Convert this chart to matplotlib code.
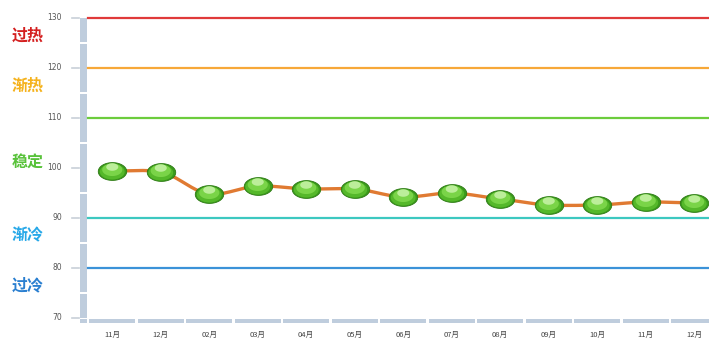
import numpy as np
import matplotlib
matplotlib.use("Agg")
import matplotlib.pyplot as plt
from matplotlib.path import Path
from matplotlib.transforms import blended_transform_factory
from matplotlib.patches import Rectangle

plt.rcParams['font.family'] = ['Noto Sans CJK SC', 'DejaVu Sans']

months = ["11月", "12月", "02月", "03月", "04月", "05月", "06月", "07月",
          "08月", "09月", "10月", "11月", "12月"]
values = [99.4, 99.2, 94.8, 96.4, 95.8, 95.8, 94.2, 95.0, 93.8, 92.6, 92.6, 93.2, 93.0]

levels = [130, 120, 110, 90, 80]
level_colors = ["#e03a3a", "#f7a838", "#6ccc3c", "#3cc8c0", "#3b92d8"]
zone_names = ["过热", "渐热", "稳定", "渐冷", "过冷"]
zone_pos = [126.5, 116.5, 101.2, 86.5, 76.5]
zone_colors = ["#d42020", "#f5b21c", "#58c23a", "#27a8e8", "#2a7fd0"]
yticks = [70, 80, 90, 100, 110, 120, 130]

W, H = 709, 340
fig = plt.figure(figsize=(W / 100, H / 100), dpi=100)
x0, x1, ytop, ybot = 88, 709, 18, 318
ax = fig.add_axes([x0 / W, 1 - ybot / H, (x1 - x0) / W, (ybot - ytop) / H])
step = 48.5
n = len(months)
ax.set_xlim(-0.5, -0.5 + (x1 - x0) / step)
ax.set_ylim(70, 130)
for s in ax.spines.values():
    s.set_visible(False)

# threshold lines
for lv, c in zip(levels, level_colors):
    ax.axhline(lv, color=c, lw=1.6, zorder=2, clip_on=False)

# 3D wall (left) and floor (bottom)
wall = "#bfcddd"
px = 1.0 / (x1 - x0)
py = 1.0 / (ybot - ytop)
tr_y = blended_transform_factory(ax.transAxes, ax.transData)
segs = [(70, 75), (75, 85), (85, 95), (95, 105), (105, 115), (115, 125), (125, 130)]
for lo, hi in segs:
    a = lo + (0.15 if lo != 70 else 0)
    b = hi - (0.15 if hi != 130 else 0)
    ax.add_patch(Rectangle((-8 * px, a), 7 * px, b - a, transform=tr_y,
                           facecolor=wall, edgecolor="none", clip_on=False, zorder=1))
tr_x = blended_transform_factory(ax.transData, ax.transAxes)
ax.add_patch(Rectangle((-8 * px, -5 * py), 7 * px, 4 * py, transform=ax.transAxes,
                       facecolor=wall, edgecolor="none", clip_on=False, zorder=1))
for i in range(n):
    ax.add_patch(Rectangle((i - 0.5 + 0.03, -5 * py), 0.94, 4 * py, transform=tr_x,
                           facecolor=wall, edgecolor="none", clip_on=False, zorder=1))

# y tick marks and labels
for v in yticks:
    ax.plot([-16 * px, -9 * px], [v, v], transform=tr_y, color="#c8d0d8",
            lw=1.2, clip_on=False)
    ax.text(-26 * px, v, str(v), transform=tr_y, ha="right", va="center",
            fontsize=5.5, color="#555555", family="DejaVu Sans")

# zone labels
for name, yv, c in zip(zone_names, zone_pos, zone_colors):
    ax.text(-76 * px, yv, name, transform=tr_y, ha="left", va="center",
            fontsize=11.5, color=c, fontweight="bold")

# x labels
ax.set_xticks(range(n))
ax.set_xticklabels(months, fontsize=5.5, color="#444444")
ax.tick_params(axis="x", length=0, pad=9)
ax.set_yticks([])

# smooth spline through the points
xs = np.arange(n, dtype=float)
ys = np.array(values)
cx, cy = [], []
for i in range(n - 1):
    p0 = ys[max(i - 1, 0)]; p1 = ys[i]; p2 = ys[i + 1]; p3 = ys[min(i + 2, n - 1)]
    t = np.linspace(0, 1, 20)
    m1 = (p2 - p0) / (2 if 0 < i else 1) * 0.75
    m2 = (p3 - p1) / (2 if i + 1 < n - 1 else 1) * 0.75
    h00 = 2 * t**3 - 3 * t**2 + 1; h10 = t**3 - 2 * t**2 + t
    h01 = -2 * t**3 + 3 * t**2; h11 = t**3 - t**2
    cx.extend(xs[i] + t); cy.extend(h00 * p1 + h10 * m1 + h01 * p2 + h11 * m2)
ax.plot(cx, cy, color="#e07a32", lw=2.4, zorder=3, solid_capstyle="round")

# ellipse markers (glossy green)
th = np.linspace(0, 2 * np.pi, 80)
ell = Path(np.column_stack([np.cos(th) * 1.6, np.sin(th)]), closed=True)
ax.scatter(xs, ys, marker=ell, s=420, facecolor="#3a9a1c", edgecolor="#2c7a12",
           linewidth=0.6, zorder=4)
ax.scatter(xs, ys - 0.15, marker=ell, s=320, facecolor="#55b82a", edgecolor="none", zorder=5)
ax.scatter(xs, ys + 0.25, marker=ell, s=210, facecolor="#7ad448", edgecolor="none", zorder=6)
ax.scatter(xs, ys + 0.8, marker=ell, s=75, facecolor="#c4f2a4", edgecolor="none",
           alpha=0.9, zorder=7)

fig.savefig("out.png", dpi=100)
